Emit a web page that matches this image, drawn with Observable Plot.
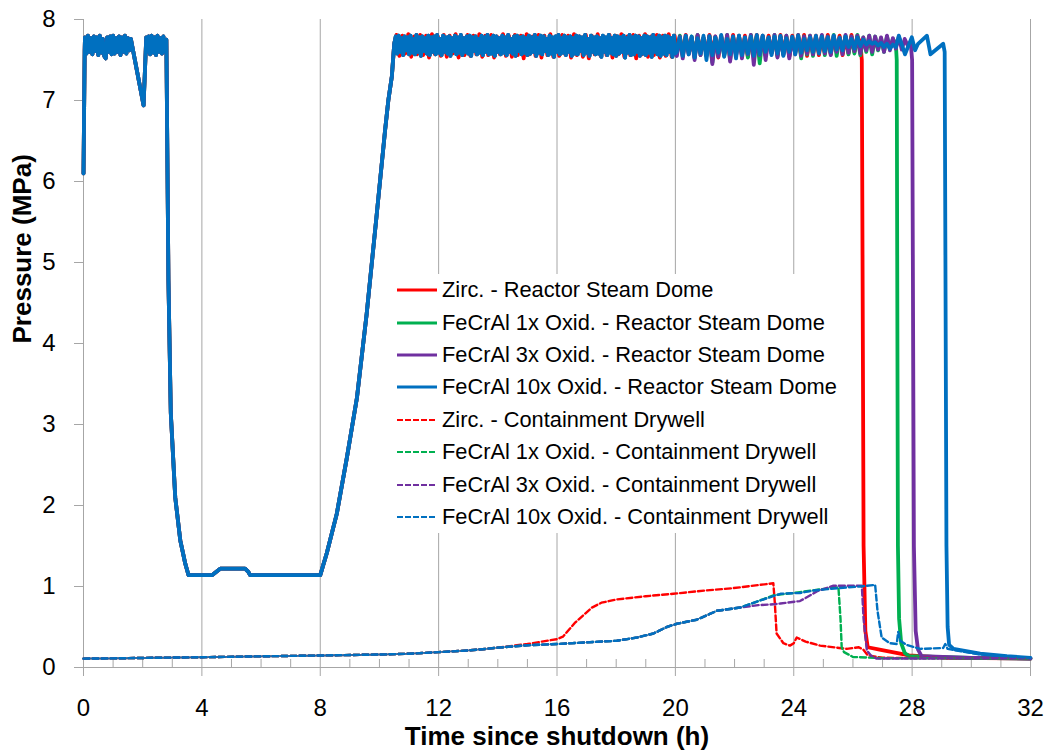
<!DOCTYPE html>
<html><head><meta charset="utf-8">
<script src="https://cdn.jsdelivr.net/npm/d3@7"></script>
<script src="https://cdn.jsdelivr.net/npm/@observablehq/plot@0.6"></script>
<style>
body{margin:0;background:#fff;}
#wrap{position:relative;width:1050px;height:756px;font-family:"Liberation Sans",Arial,sans-serif;}
#legend{position:absolute;left:388px;top:274px;width:460px;background:#fff;padding:0;}
.row{height:32.4px;display:flex;align-items:center;font-size:21.8px;color:#000;white-space:nowrap;}
.row svg{margin-left:9px;margin-right:5px;flex:none;}
</style></head><body><div id="wrap"></div>
<script>
// ---------- labels / ticks ----------
const seriesNames = [
  "Zirc. - Reactor Steam Dome",
  "FeCrAl 1x Oxid. - Reactor Steam Dome",
  "FeCrAl 3x Oxid. - Reactor Steam Dome",
  "FeCrAl 10x Oxid. - Reactor Steam Dome",
  "Zirc. - Containment Drywell",
  "FeCrAl 1x Oxid. - Containment Drywell",
  "FeCrAl 3x Oxid. - Containment Drywell",
  "FeCrAl 10x Oxid. - Containment Drywell"
];
const seriesColors = ["#FF0000","#00B050","#7030A0","#0070C0","#FF0000","#00B050","#7030A0","#0070C0"];
const seriesDashed = [false,false,false,false,true,true,true,true];
const xTicks = [0,4,8,12,16,20,24,28,32];
const xMinorTicks = [1,2,3,5,6,7,9,10,11,13,14,15,17,18,19,21,22,23,25,26,27,29,30,31];
const yTicks = [0,1,2,3,4,5,6,7,8];
const xLabel = "Time since shutdown (h)";
const yLabel = "Pressure (MPa)";

// ---------- Reactor steam dome (MPa) ----------
const domeInitT = [0,0.04];
const domeInitP = [6.1,7.62];
// first oscillating band, every 0.05 h from 0.05 h
const band1Start = 0.05, bandStep = 0.05;
const band1P = [7.78,7.58,7.8,7.6,7.77,7.57,7.79,7.61,7.78,7.56,7.8,7.59,7.76,7.55,7.52,7.78,7.6,7.79,7.57,7.8,7.58,7.77,7.6,7.79,7.56,7.78,7.6,7.8,7.58,7.77,7.62,7.76];
const dipT = [2.03,2.12];
const dipP = [6.94,7.78];
const band2Start = 2.15;
const band2P = [7.6,7.79,7.57,7.8,7.59,7.78,7.56,7.8,7.6,7.77,7.58,7.79,7.6,7.75];
// blowdown, low-pressure hold and repressurisation
const domeMidT = [2.87,2.95,3.10,3.27,3.44,3.55,4.34,4.62,5.46,5.57,5.63,8.0,8.22,8.56,8.90,9.24,9.57,9.91,10.19,10.30,10.42,10.5];
const domeMidP = [4.78,3.14,2.10,1.57,1.28,1.14,1.14,1.22,1.22,1.18,1.14,1.14,1.41,1.90,2.59,3.33,4.37,5.60,6.63,7.0,7.3,7.7];
// oscillating plateau 10.55 – 20.0 h, every 0.05 h
const plateauStart = 10.55;
const plateauP = [
7.79,7.58,7.8,7.6,7.77,7.56,7.79,7.62,7.78,7.57,
7.8,7.59,7.76,7.57,7.81,7.6,7.78,7.55,7.79,7.61,
7.77,7.58,7.8,7.56,7.78,7.6,7.79,7.57,7.81,7.59,
7.76,7.56,7.8,7.6,7.78,7.58,7.79,7.55,7.77,7.61,
7.8,7.57,7.78,7.59,7.81,7.56,7.77,7.6,7.79,7.58,
7.8,7.55,7.78,7.61,7.79,7.57,7.76,7.59,7.8,7.56,
7.78,7.6,7.81,7.57,7.77,7.58,7.8,7.55,7.79,7.6,
7.77,7.57,7.8,7.59,7.78,7.56,7.81,7.6,7.76,7.58,
7.79,7.55,7.8,7.61,7.78,7.57,7.79,7.59,7.77,7.56,
7.8,7.58,7.78,7.6,7.81,7.55,7.77,7.59,7.8,7.57,
7.79,7.61,7.76,7.56,7.8,7.58,7.78,7.54,7.79,7.6,
7.81,7.57,7.77,7.59,7.8,7.56,7.78,7.6,7.79,7.55,
7.77,7.58,7.8,7.57,7.79,7.61,7.78,7.56,7.81,7.59,
7.76,7.55,7.8,7.6,7.78,7.57,7.79,7.58,7.77,7.54,
7.8,7.6,7.78,7.56,7.81,7.59,7.77,7.57,7.8,7.55,
7.79,7.58,7.78,7.6,7.8,7.53,7.77,7.59,7.81,7.56,
7.78,7.57,7.8,7.6,7.79,7.55,7.77,7.58,7.8,7.56,
7.79,7.59,7.78,7.54,7.81,7.6,7.77,7.57,7.8,7.55,
7.78,7.58,7.8,7.56,7.79,7.6,7.77,7.54,7.8,7.58];
// Zirc. plateau (slightly wider swing), every 0.1 h from 10.575 h
const plateauZircStart = 10.575, plateauZircStep = 0.1;
const plateauZircP = [
7.81,7.55,7.8,7.58,7.82,7.54,7.79,7.57,7.81,7.56,
7.8,7.53,7.82,7.57,7.79,7.55,7.81,7.54,7.8,7.58,
7.82,7.53,7.79,7.56,7.81,7.55,7.8,7.57,7.82,7.54,
7.8,7.56,7.81,7.53,7.79,7.57,7.82,7.55,7.8,7.54,
7.81,7.56,7.8,7.52,7.82,7.57,7.79,7.55,7.81,7.53,
7.8,7.56,7.82,7.54,7.79,7.55,7.81,7.57,7.8,7.53,
7.82,7.56,7.79,7.54,7.81,7.52,7.8,7.57,7.82,7.55,
7.79,7.56,7.81,7.53,7.8,7.57,7.82,7.54,7.79,7.56,
7.81,7.52,7.8,7.57,7.82,7.54,7.79,7.56,7.81,7.53,
7.8,7.55,7.82,7.54,7.8];
// late plateau, every 0.1 h from 20.05 h
const lateStart = 20.05, lateStep = 0.1;
const lateZircP = [
7.6,7.79,7.56,7.81,7.58,7.77,7.54,7.8,7.6,7.78,
7.55,7.81,7.58,7.79,7.53,7.8,7.57,7.77,7.6,7.81,
7.56,7.79,7.58,7.8,7.54,7.78,7.6,7.81,7.57,7.79,
7.55,7.8,7.59,7.77,7.56,7.81,7.58,7.79,7.54,7.8,
7.6,7.78,7.57,7.81,7.55,7.79,7.58,7.8,7.56,7.78,
7.59,7.81,7.57,7.79,7.6,7.8,7.56,7.78,7.58,7.81,
7.6,7.79,7.72];
const lateFe1P = [
7.57,7.8,7.54,7.78,7.6,7.79,7.52,7.81,7.56,7.77,
7.58,7.8,7.47,7.78,7.57,7.79,7.55,7.81,7.5,7.78,
7.58,7.8,7.55,7.77,7.53,7.81,7.57,7.79,7.46,7.8,
7.56,7.78,7.58,7.81,7.54,7.79,7.57,7.8,7.55,7.77,
7.59,7.81,7.52,7.79,7.57,7.8,7.55,7.78,7.6,7.8,
7.56,7.79,7.58,7.81,7.55,7.78,7.6,7.8,7.57,7.79,
7.58,7.81,7.56,7.78,7.6,7.8,7.57,7.79,7.62,7.77,
7.6,7.79,7.64,7.76,7.7];
const lateFe3P = [
7.55,7.79,7.52,7.8,7.57,7.78,7.5,7.81,7.56,7.77,
7.58,7.8,7.45,7.79,7.54,7.78,7.57,7.81,7.48,7.79,
7.55,7.8,7.52,7.78,7.57,7.81,7.44,7.79,7.56,7.8,
7.5,7.78,7.58,7.81,7.53,7.79,7.56,7.8,7.52,7.78,
7.57,7.81,7.55,7.79,7.58,7.8,7.57,7.78,7.6,7.81,
7.58,7.79,7.56,7.8,7.6,7.78,7.57,7.81,7.59,7.79,
7.61,7.8,7.58,7.78,7.62,7.8,7.6,7.79,7.63,7.78,
7.6,7.8,7.62,7.77,7.64,7.79,7.63,7.76,7.68,7.72];
const lateFe10P = [
7.6,7.78,7.55,7.8,7.57,7.79,7.53,7.77,7.58,7.8,
7.5,7.79,7.56,7.78,7.59,7.81,7.54,7.76,7.57,7.79,
7.52,7.8,7.56,7.78,7.58,7.79,7.55,7.81,7.57,7.8,
7.6,7.78,7.56,7.79,7.58,7.8,7.55,7.77,7.6,7.79,
7.57,7.8,7.59,7.76,7.62,7.78,7.6,7.8,7.58,7.79,
7.61,7.78,7.6,7.8,7.63,7.77,7.62,7.79,7.66,7.76,
7.64,7.78,7.67,7.75,7.69,7.73,7.7,7.72,7.68,7.71,
7.66,7.7,7.64,7.69,7.66];
// depressurisation tails
const tailZircT = [26.3,26.36,26.42,26.5,26.9,27.9,29.2,32];
const tailZircP = [7.5,1.5,0.45,0.25,0.22,0.15,0.12,0.11];
const tailFe1T = [27.48,27.52,27.56,27.63,27.75,27.9,30,32];
const tailFe1P = [7.5,1.5,0.6,0.3,0.18,0.14,0.12,0.11];
const tailFe3T = [28.0,28.06,28.12,28.2,28.32,30,32];
const tailFe3P = [7.5,1.5,0.45,0.22,0.14,0.12,0.11];
const tailFe10T = [27.55,27.76,27.99,28.1,28.2,28.5,28.62,29.05,29.1,29.16,29.2,29.25,29.4,30.3,31.2,32];
const tailFe10P = [7.8,7.57,7.78,7.62,7.7,7.8,7.57,7.7,7.6,1.5,0.5,0.28,0.23,0.17,0.14,0.12];

// ---------- Containment drywell (MPa) ----------
const dwStartT = [0,1,2,4,6,8,10,11,12,13,13.6,14];
const dwStartP = [0.11,0.113,0.118,0.127,0.138,0.148,0.16,0.17,0.19,0.21,0.23,0.245];
const dwZircT = [15,16,16.2,16.6,17.18,17.5,18.02,19.0,19.93,21,21.96,23.31,23.36,23.42,23.65,23.87,24.0,24.1,24.4,24.89,25.79,26.2,26.35,26.5,27,32];
const dwZircP = [0.29,0.35,0.38,0.55,0.74,0.8,0.84,0.88,0.91,0.95,0.98,1.04,0.8,0.42,0.3,0.27,0.3,0.37,0.32,0.27,0.23,0.25,0.22,0.15,0.12,0.11];
const dwFeT = [15,16,17,18.02,18.7,19.26,19.71,20.05,20.72,21.1,21.4,22.19];
const dwFeP = [0.275,0.29,0.31,0.33,0.37,0.42,0.50,0.54,0.59,0.65,0.70,0.74];
const dwFe1T = [22.8,23.31,24.21,24.8,25.51,25.58,25.62,25.7,26.0,27,32];
const dwFe1P = [0.82,0.89,0.93,0.96,0.99,0.6,0.25,0.19,0.13,0.115,0.11];
const dwFe3T = [22.8,23.31,23.55,24.21,24.5,24.78,25.34,26.3,26.36,26.47,26.6,26.8,32];
const dwFe3P = [0.77,0.78,0.79,0.82,0.88,0.94,1.01,1.01,0.6,0.21,0.15,0.11,0.115];
const dwFe10T = [22.8,23.31,23.55,24.21,24.66,25.5,26.24,26.75,26.83,26.97,27.25,27.48,27.53,27.6,27.8,28.27,29.05,29.12,29.2,29.34,30.3,32];
const dwFe10P = [0.82,0.88,0.91,0.92,0.95,0.98,1.0,1.02,0.70,0.37,0.30,0.29,0.44,0.33,0.28,0.23,0.24,0.29,0.23,0.22,0.16,0.12];

// ---------- build tables ----------
const pairs = (T, P) => T.map((t, i) => ({t, p: P[i]}));
const sampled = (start, step, P) => P.map((p, i) => ({t: +(start + i * step).toFixed(3), p}));
const domeStart = [
  ...pairs(domeInitT, domeInitP),
  ...sampled(band1Start, bandStep, band1P),
  ...pairs(dipT, dipP),
  ...sampled(band2Start, bandStep, band2P),
  ...pairs(domeMidT, domeMidP)
];
const shared = sampled(plateauStart, bandStep, plateauP);
const dwStart = pairs(dwStartT, dwStartP);
const seriesData = [
  [...domeStart, ...sampled(plateauZircStart, plateauZircStep, plateauZircP), ...sampled(lateStart, lateStep, lateZircP), ...pairs(tailZircT, tailZircP)],
  [...domeStart, ...shared, ...sampled(lateStart, lateStep, lateFe1P), ...pairs(tailFe1T, tailFe1P)],
  [...domeStart, ...shared, ...sampled(lateStart, lateStep, lateFe3P), ...pairs(tailFe3T, tailFe3P)],
  [...domeStart, ...shared, ...sampled(lateStart, lateStep, lateFe10P), ...pairs(tailFe10T, tailFe10P)],
  [...dwStart, ...pairs(dwZircT, dwZircP)],
  [...dwStart, ...pairs(dwFeT, dwFeP), ...pairs(dwFe1T, dwFe1P)],
  [...dwStart, ...pairs(dwFeT, dwFeP), ...pairs(dwFe3T, dwFe3P)],
  [...dwStart, ...pairs(dwFeT, dwFeP), ...pairs(dwFe10T, dwFe10P)]
];

const grey = "#a6a6a6";
const lineMarks = seriesData.map((data, i) => Plot.line(data, {
  x: "t", y: "p", stroke: seriesColors[i],
  strokeWidth: seriesDashed[i] ? 2.4 : 3.8,
  strokeDasharray: seriesDashed[i] ? "6,3" : null,
  strokeLinejoin: "round"
}));

const chart = Plot.plot({
  width: 1050, height: 756,
  marginLeft: 83, marginRight: 20, marginTop: 19, marginBottom: 89,
  x: {domain: [0, 32]},
  y: {domain: [0, 8]},
  style: {fontFamily: '"Liberation Sans", Arial, sans-serif', background: "#fff", color: "#000", overflow: "visible"},
  marks: [
    Plot.gridX(xTicks.filter(d => d > 0), {stroke: grey, strokeOpacity: 1}),
    Plot.ruleX(xMinorTicks, {stroke: grey, insetTop: 640}),
    Plot.axisX(xTicks, {tickSize: 9, tickPadding: 22, fontSize: 24, stroke: grey, label: null, tickFormat: d => String(d)}),
    Plot.axisY(yTicks, {tickSize: 9, tickPadding: 19, fontSize: 24, stroke: grey, label: null, tickFormat: d => String(d)}),
    Plot.ruleX([0], {stroke: grey}),
    Plot.ruleY([0], {stroke: grey}),
    ...lineMarks,
    Plot.text([xLabel], {frameAnchor: "bottom", dy: 69, text: d => d, fontSize: 26, fontWeight: "bold", lineAnchor: "middle", fill: "#000"}),
    Plot.text([yLabel], {frameAnchor: "left", dx: -61, rotate: -90, text: d => d, fontSize: 26, fontWeight: "bold", lineAnchor: "middle", fill: "#000"})
  ]
});
const wrap = document.getElementById("wrap");
wrap.appendChild(chart);

// ---------- legend ----------
const legend = d3.select(wrap).append("div").attr("id", "legend");
seriesNames.forEach((name, i) => {
  const row = legend.append("div").attr("class", "row");
  const sw = row.append("svg").attr("width", 40).attr("height", 6);
  sw.append("line").attr("x1", 0).attr("x2", 40).attr("y1", 3).attr("y2", 3)
    .attr("stroke", seriesColors[i])
    .attr("stroke-width", seriesDashed[i] ? 2 : 3)
    .attr("stroke-dasharray", seriesDashed[i] ? "6,2" : null);
  row.append("span").text(name);
});
</script></body></html>
